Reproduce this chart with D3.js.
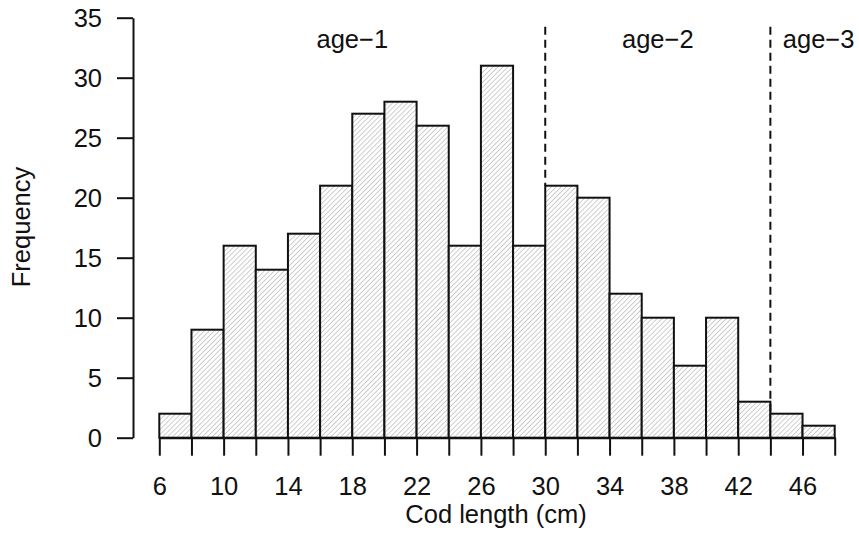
<!DOCTYPE html>
<html>
<head>
<meta charset="utf-8">
<script src="https://cdn.jsdelivr.net/npm/d3@7"></script>
<style>
  html, body { margin: 0; padding: 0; background: #fff; }
  svg text { font-family: "Liberation Sans", Arial, Helvetica, sans-serif; fill: #111; }
</style>
</head>
<body>
<svg id="chart" width="859" height="535"></svg>
<script>
// Histogram of cod lengths, 2 cm bins
const binStarts = [6, 8, 10, 12, 14, 16, 18, 20, 22, 24, 26, 28, 30, 32, 34, 36, 38, 40, 42, 44, 46];
const binWidth = 2;
const counts = [2, 9, 16, 14, 17, 21, 27, 28, 26, 16, 31, 16, 21, 20, 12, 10, 6, 10, 3, 2, 1];

// axis ticks
const xTickValues = [6, 8, 10, 12, 14, 16, 18, 20, 22, 24, 26, 28, 30, 32, 34, 36, 38, 40, 42, 44, 46, 48];
const xTickLabels = [6, 10, 14, 18, 22, 26, 30, 34, 38, 42, 46];
const yTickValues = [0, 5, 10, 15, 20, 25, 30, 35];

// age-class boundaries and their labels
const cutoffs = [30, 44];
const ageLabels = ["age\u22121", "age\u22122", "age\u22123"];
const ageLabelCentres = [18, 37, 47];

const svg = d3.select("#chart");
const fontSize = 25.5;

const x = d3.scaleLinear().domain([6, 48]).range([159.3, 834.7]);
const y = d3.scaleLinear().domain([0, 35]).range([437.7, 17.7]);

// diagonal hatch fill
const hatchStep = 3.5;
const defs = svg.append("defs");
const pat = defs.append("pattern")
  .attr("id", "hatch")
  .attr("patternUnits", "userSpaceOnUse")
  .attr("width", hatchStep)
  .attr("height", hatchStep)
  .attr("patternTransform", "rotate(45)");
pat.append("rect").attr("width", hatchStep).attr("height", hatchStep).attr("fill", "#fff");
pat.append("line")
  .attr("x1", 0).attr("y1", 0).attr("x2", 0).attr("y2", hatchStep)
  .attr("stroke", "#a6a6a6").attr("stroke-width", 1.1);

// bars
svg.append("g").selectAll("rect")
  .data(binStarts)
  .join("rect")
  .attr("x", d => x(d))
  .attr("y", (d, i) => y(counts[i]))
  .attr("width", d => x(d + binWidth) - x(d))
  .attr("height", (d, i) => y(0) - y(counts[i]))
  .attr("fill", "url(#hatch)")
  .attr("stroke", "#111")
  .attr("stroke-width", 2);

// x axis: a tick at every bin edge, labels every 4 cm
const xAxis = d3.axisBottom(x)
  .tickValues(xTickValues)
  .tickSize(18)
  .tickSizeOuter(0)
  .tickFormat(d => xTickLabels.includes(d) ? d : "");
const gx = svg.append("g")
  .attr("transform", `translate(0,${y(0)})`)
  .call(xAxis);
gx.select(".domain").attr("stroke", "#111").attr("stroke-width", 2);
gx.selectAll(".tick line").attr("stroke", "#111").attr("stroke-width", 2);
gx.selectAll(".tick text")
  .attr("font-size", fontSize)
  .attr("font-family", "Liberation Sans, Arial, sans-serif")
  .attr("fill", "#111")
  .attr("dy", null)
  .attr("y", 57);

// y axis
const yAxis = d3.axisLeft(y)
  .tickValues(yTickValues)
  .tickSize(16)
  .tickSizeOuter(0);
const gy = svg.append("g")
  .attr("transform", "translate(133,0)")
  .call(yAxis);
gy.select(".domain").attr("stroke", "#111").attr("stroke-width", 2);
gy.selectAll(".tick line").attr("stroke", "#111").attr("stroke-width", 2);
gy.selectAll(".tick text")
  .attr("font-size", fontSize)
  .attr("font-family", "Liberation Sans, Arial, sans-serif")
  .attr("fill", "#111")
  .attr("x", -31)
  .attr("dy", "0.35em");

// dashed boundaries between age classes, from near the top down to the bar
svg.append("g").selectAll("line")
  .data(cutoffs)
  .join("line")
  .attr("x1", d => x(d)).attr("x2", d => x(d))
  .attr("y1", y(34.25))
  .attr("y2", d => y(counts[binStarts.indexOf(d)]))
  .attr("stroke", "#111")
  .attr("stroke-width", 2)
  .attr("stroke-dasharray", "8,5");

// age labels
svg.append("g").selectAll("text")
  .data(ageLabels)
  .join("text")
  .attr("x", (d, i) => x(ageLabelCentres[i]))
  .attr("y", y(32.5))
  .attr("text-anchor", "middle")
  .attr("font-size", fontSize)
  .text(d => d);

// axis titles
svg.append("text")
  .attr("x", 496)
  .attr("y", 523)
  .attr("text-anchor", "middle")
  .attr("font-size", fontSize)
  .text("Cod length (cm)");

svg.append("text")
  .attr("transform", "translate(30,227) rotate(-90)")
  .attr("text-anchor", "middle")
  .attr("font-size", fontSize)
  .text("Frequency");
</script>
</body>
</html>
